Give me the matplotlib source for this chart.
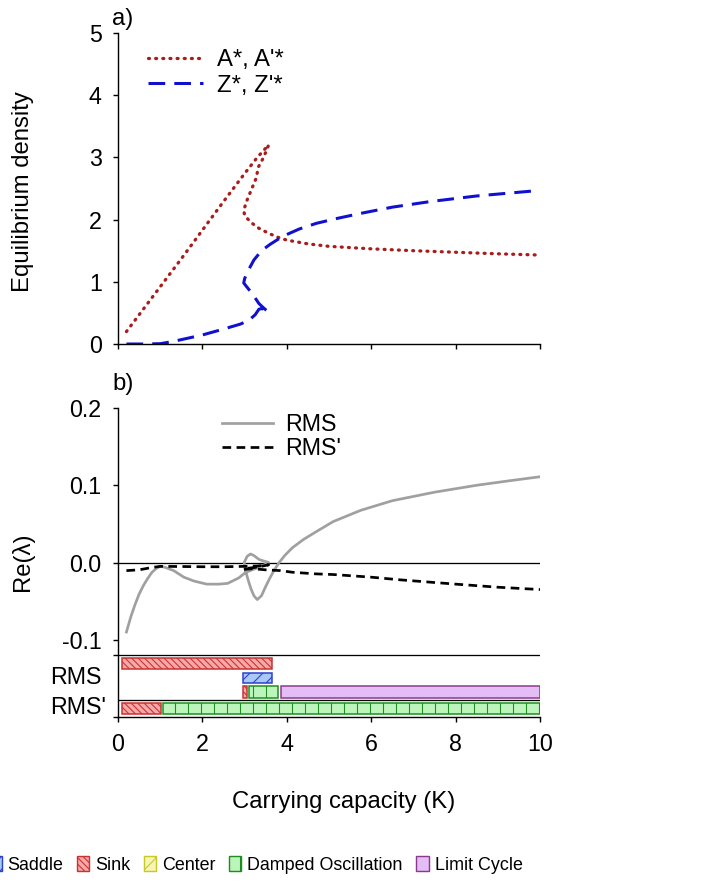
import matplotlib
matplotlib.use("Agg")
import matplotlib.pyplot as plt
from matplotlib.patches import Patch

plt.rcParams['font.family'] = ['Liberation Sans', 'DejaVu Sans']
plt.rcParams['hatch.linewidth'] = 1.0

# ---------------- data ----------------
# Panel a: equilibrium densities along the (folded) branch: lower -> middle -> upper
A_K = [0.2, 0.5, 1.0, 1.5, 2.0, 2.5, 3.0, 3.3, 3.57,
       3.45, 3.33, 3.27, 3.16, 3.05, 2.98,
       3.0, 3.06, 3.18, 3.34, 3.57, 3.77, 4.0, 4.5, 5.0, 6.0, 7.0, 8.0, 9.0, 10.0]
A_val = [0.2, 0.47, 0.92, 1.37, 1.83, 2.29, 2.74, 3.00, 3.20,
         3.00, 2.85, 2.66, 2.48, 2.30, 2.15,
         2.07, 2.02, 1.94, 1.86, 1.78, 1.72, 1.67, 1.61, 1.57, 1.53, 1.50, 1.475, 1.45, 1.43]

Z_K = [0.2, 0.6, 1.0, 1.3, 1.6, 2.0, 2.5, 2.9, 3.1, 3.25, 3.34, 3.42, 3.5, 3.57,
       3.45, 3.34, 3.18, 3.05, 2.98,
       3.0, 3.1, 3.22, 3.4, 3.6, 3.9, 4.3, 4.7, 5.2, 5.75, 6.5, 7.4, 8.5, 10.0]
Z_val = [0.0, 0.0, 0.005, 0.04, 0.085, 0.145, 0.24, 0.32, 0.38, 0.47, 0.56, 0.57, 0.53, 0.51,
         0.58, 0.65, 0.81, 0.92, 0.98,
         1.05, 1.20, 1.35, 1.50, 1.60, 1.73, 1.85, 1.94, 2.02, 2.10, 2.20, 2.29, 2.38, 2.47]

# Panel b: leading Re(lambda) along the same branch path
RMS_K = [0.2, 0.3, 0.4, 0.5, 0.6, 0.7, 0.8, 0.9, 1.0, 1.1, 1.32, 1.56, 1.8, 2.1, 2.4, 2.6, 2.86,
         3.02, 3.2, 3.4, 3.57,
         3.45, 3.34, 3.22, 3.14, 3.06, 2.99,
         3.02, 3.08, 3.15, 3.22, 3.3, 3.4, 3.5, 3.6, 3.7, 3.82, 3.95, 4.13, 4.4, 4.7, 5.1, 5.75,
         6.5, 7.5, 8.5, 9.3, 10.0]
RMS_val = [-0.090, -0.071, -0.055, -0.041, -0.030, -0.021, -0.013, -0.008, -0.005, -0.006,
           -0.0105, -0.019, -0.024, -0.028, -0.028, -0.027, -0.020,
           -0.013, -0.009, -0.005, 0.0,
           0.002, 0.004, 0.009, 0.011, 0.008, 0.0,
           -0.010, -0.022, -0.034, -0.043, -0.048, -0.043, -0.031, -0.020, -0.010, 0.0,
           0.009, 0.019, 0.030, 0.040, 0.053, 0.0675, 0.080, 0.091, 0.100, 0.106, 0.111]

RMSp_K = [0.2, 0.5, 0.8, 1.0, 1.5, 2.0, 2.5, 3.0, 3.3, 3.57,
          3.3, 3.0, 2.97,
          3.2, 3.5, 3.85, 4.13, 4.68, 5.11, 6.0, 6.7, 8.0, 9.0, 10.0]
RMSp_val = [-0.0105, -0.0095, -0.0065, -0.005, -0.0052, -0.0055, -0.0055, -0.005, -0.0045, -0.003,
            -0.006, -0.008, -0.009,
            -0.008, -0.0095, -0.0105, -0.0126, -0.0147, -0.0156, -0.019, -0.0225, -0.028, -0.032,
            -0.035]

# Stability classification intervals (state, K start, K end)
state_names = ['Saddle', 'Sink', 'Center', 'Damped Oscillation', 'Limit Cycle']
RMS_row1 = [('Sink', 0.1, 3.65)]
RMS_row2 = [('Saddle', 2.97, 3.65)]
RMS_row3 = [('Sink', 2.96, 3.05), ('Damped Oscillation', 3.1, 3.8), ('Limit Cycle', 3.86, 10.0)]
RMSp_row = [('Sink', 0.1, 1.02), ('Damped Oscillation', 1.07, 10.0)]

xticks = [0, 2, 4, 6, 8, 10]
yticks_a = [0, 1, 2, 3, 4, 5]
yticks_b = [-0.1, 0.0, 0.1, 0.2]
yticklabels_b = ['-0.1', '0.0', '0.1', '0.2']

# ---------------- styles ----------------
styles = {
    'Saddle': dict(facecolor='#AAC8F4', edgecolor='#2A40D0', hatch='//'),
    'Sink': dict(facecolor='#F5A8A8', edgecolor='#C83232', hatch='\\\\\\\\'),
    'Center': dict(facecolor='#F6F6B4', edgecolor='#C8C828', hatch='x'),
    'Damped Oscillation': dict(facecolor='#BCF5BC', edgecolor='#1E8C1E', hatch='|'),
    'Limit Cycle': dict(facecolor='#E4BCF6', edgecolor='#8A3A8A', hatch=None),
}

DPI = 78
W, H = 702, 888
fig = plt.figure(figsize=(W / DPI, H / DPI), dpi=DPI)

def fx(px):
    return px / W

def fy(py):
    return 1 - py / H

L, R = 118, 540
ax1 = fig.add_axes([fx(L), fy(344), (R - L) / W, (344 - 33) / H])
ax2 = fig.add_axes([fx(L), fy(717), (R - L) / W, (717 - 408) / H])

TICK_FS = 21.5
for ax in (ax1, ax2):
    ax.spines['top'].set_visible(False)
    ax.spines['right'].set_visible(False)
    ax.spines['left'].set_linewidth(1.3)
    ax.spines['bottom'].set_linewidth(1.3)
    ax.set_xlim(0, 10)
    ax.set_xticks(xticks)
    ax.tick_params(direction='out', length=5, width=1.3, labelsize=TICK_FS)
    ax.tick_params(axis='y', pad=10)
    ax.tick_params(axis='x', pad=10)

# Panel a
ax1.set_ylim(0, 5)
ax1.set_yticks(yticks_a)
ax1.tick_params(axis='x', labelbottom=False)
ax1.plot(A_K, A_val, color='#A81C1C', lw=3.0, linestyle=(0, (0.3, 1.9)),
         dash_capstyle='round', label="A*, A'*")
ax1.plot(Z_K, Z_val, color='#1010D0', lw=2.8, linestyle=(0, (5.5, 3)), label="Z*, Z'*")
ax1.legend(loc='upper left', bbox_to_anchor=((148 - L) / (R - L), (344 - 49) / 311),
           frameon=False, fontsize=22, handlelength=2.3, handletextpad=0.6,
           borderpad=0, borderaxespad=0, labelspacing=0.15)

# Panel b
ax2.set_ylim(-0.2, 0.2)
ax2.set_yticks(yticks_b)
ax2.set_yticklabels(yticklabels_b)
ax2.set_yticks([-0.12, -0.2], minor=True)
ax2.tick_params(axis='y', which='minor', length=5, width=1.3)
ax2.axhline(0.0, color='black', lw=1.2)
ax2.axhline(-0.12, color='black', lw=1.2)
ax2.axhline(-0.178, color='black', lw=1.2)
ax2.plot(RMS_K, RMS_val, color='#A0A0A0', lw=2.5, label='RMS', solid_joinstyle='round')
ax2.plot(RMSp_K, RMSp_val, color='black', lw=2.5, linestyle=(0, (3.2, 2.0)), label="RMS'")
ax2.legend(loc='upper left', bbox_to_anchor=((222 - L) / (R - L), (717 - 413) / 309),
           frameon=False, fontsize=21.5, handlelength=2.2, handletextpad=0.5,
           borderpad=0, borderaxespad=0, labelspacing=0.05)

rows = [(RMS_row1, -0.1305, 0.0143), (RMS_row2, -0.1495, 0.013),
        (RMS_row3, -0.1675, 0.015), (RMSp_row, -0.189, 0.014)]
for intervals, yc, h in rows:
    for name, k0, k1 in intervals:
        st = styles[name]
        ax2.barh(yc, k1 - k0, left=k0, height=h, facecolor=st['facecolor'],
                 edgecolor=st['edgecolor'], hatch=st['hatch'], linewidth=1.4, zorder=3)

# Row labels
fig.text(fx(50), fy(678), 'RMS', fontsize=21.5, ha='left', va='center')
fig.text(fx(50), fy(708), "RMS'", fontsize=21.5, ha='left', va='center')

# Panel labels
fig.text(fx(112), fy(19), 'a)', fontsize=22, ha='left', va='center')
fig.text(fx(112), fy(384), 'b)', fontsize=22, ha='left', va='center')

# Axis labels
fig.text(fx(23), fy(192), 'Equilibrium density', fontsize=22, rotation=90, ha='center', va='center')
fig.text(fx(23), fy(562), 'Re(λ)', fontsize=22, rotation=90, ha='center', va='center')
fig.text(fx(344), fy(802), 'Carrying capacity (K)', fontsize=22, ha='center', va='center')

# Bottom legend
handles = [Patch(facecolor=styles[n]['facecolor'], edgecolor=styles[n]['edgecolor'],
                 hatch=styles[n]['hatch'], linewidth=1.3, label=n) for n in state_names]
fig.legend(handles=handles, loc='center left', bbox_to_anchor=(fx(-11), fy(865)),
           ncol=5, frameon=False, fontsize=16.5, handlelength=0.7, handleheight=0.9,
           handletextpad=0.33, columnspacing=0.75, borderpad=0, borderaxespad=0)

fig.savefig('out.png', dpi=DPI)
